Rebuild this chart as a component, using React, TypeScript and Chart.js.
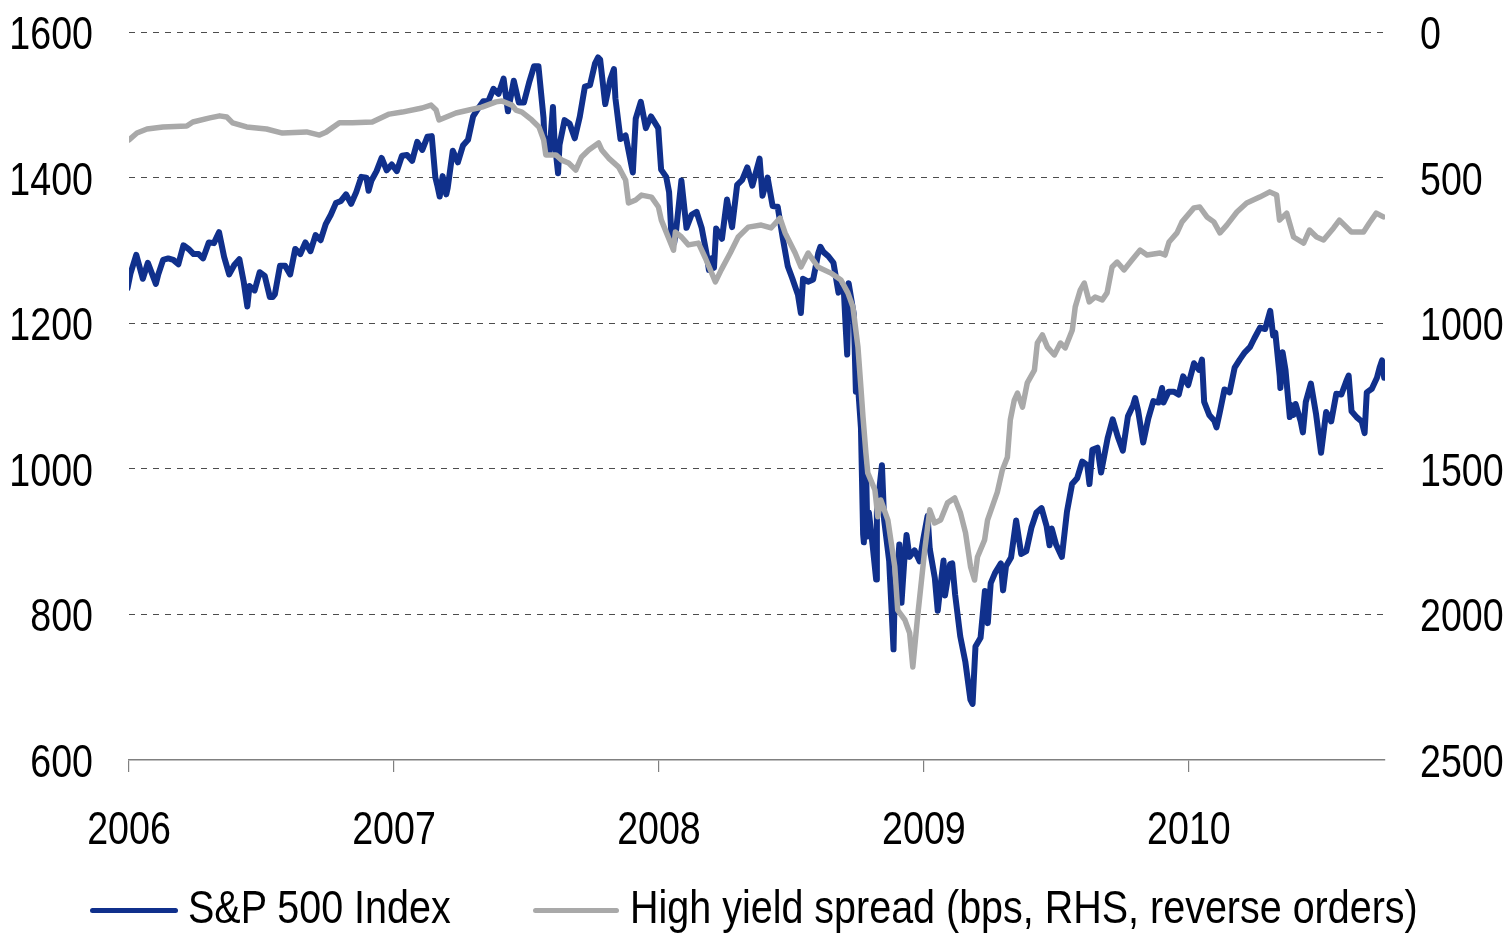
import React, { useEffect, useRef } from "react";
import { Chart, registerables } from "chart.js";

Chart.register(...registerables);

const FONT = '"Liberation Sans", Arimo, Arial, sans-serif';
const FONT_SIZE = 47;
const SQUEEZE = 0.8;
const LEGEND_SQUEEZE = 0.84;
const BLUE = "#10308C";
const GRAY = "#A9A9A9";

const seriesLabels = ["S&P 500 Index", "High yield spread (bps, RHS, reverse orders)"];
const xTickYears = [2006, 2007, 2008, 2009, 2010];
const leftTicks = [600, 800, 1000, 1200, 1400, 1600];
const rightTicks = [0, 500, 1000, 1500, 2000, 2500];

// S&P 500 index level (left axis)
const spDates = [
  "2005-12-30","2006-01-03","2006-01-11","2006-01-20","2006-01-27","2006-02-07","2006-02-10","2006-02-17","2006-02-24",
  "2006-03-03","2006-03-10","2006-03-17","2006-03-24","2006-03-31","2006-04-07","2006-04-13","2006-04-21","2006-04-28",
  "2006-05-05","2006-05-12","2006-05-19","2006-05-26","2006-06-02","2006-06-08","2006-06-13","2006-06-16","2006-06-23",
  "2006-06-30","2006-07-07","2006-07-14","2006-07-18","2006-07-21","2006-07-28","2006-08-04","2006-08-11","2006-08-18",
  "2006-08-25","2006-09-01","2006-09-08","2006-09-15","2006-09-22","2006-09-29","2006-10-06","2006-10-13","2006-10-20",
  "2006-10-27","2006-11-03","2006-11-10","2006-11-17","2006-11-24","2006-11-27","2006-12-01","2006-12-08","2006-12-15",
  "2006-12-22","2006-12-29",
  "2007-01-05","2007-01-12","2007-01-19","2007-01-26","2007-02-02","2007-02-09","2007-02-16","2007-02-22","2007-02-27",
  "2007-03-02","2007-03-05","2007-03-09","2007-03-14","2007-03-16","2007-03-23","2007-03-30","2007-04-06","2007-04-13",
  "2007-04-20","2007-04-27","2007-05-04","2007-05-11","2007-05-18","2007-05-25","2007-06-01","2007-06-07","2007-06-15",
  "2007-06-22","2007-06-29","2007-07-06","2007-07-13","2007-07-19","2007-07-26","2007-07-27","2007-08-03","2007-08-08",
  "2007-08-10","2007-08-15","2007-08-17","2007-08-24","2007-08-31","2007-09-07","2007-09-14","2007-09-21","2007-09-28",
  "2007-10-05","2007-10-09","2007-10-12","2007-10-19","2007-10-26","2007-10-31","2007-11-02","2007-11-09","2007-11-16",
  "2007-11-26","2007-11-30","2007-12-07","2007-12-14","2007-12-21","2007-12-31",
  "2008-01-04","2008-01-11","2008-01-15","2008-01-18","2008-01-22","2008-01-25","2008-02-01","2008-02-08","2008-02-15",
  "2008-02-22","2008-02-29","2008-03-07","2008-03-10","2008-03-14","2008-03-17","2008-03-20","2008-03-28","2008-04-04",
  "2008-04-11","2008-04-18","2008-04-25","2008-05-02","2008-05-09","2008-05-19","2008-05-23","2008-05-30","2008-06-06",
  "2008-06-13","2008-06-20","2008-06-27","2008-07-03","2008-07-11","2008-07-15","2008-07-18","2008-07-25","2008-08-01",
  "2008-08-08","2008-08-11","2008-08-15","2008-08-22","2008-08-29","2008-09-05","2008-09-12","2008-09-15","2008-09-17",
  "2008-09-19","2008-09-26","2008-09-29","2008-10-01","2008-10-03","2008-10-06","2008-10-09","2008-10-10","2008-10-13",
  "2008-10-15","2008-10-17","2008-10-22","2008-10-27","2008-10-28","2008-11-04","2008-11-07","2008-11-14","2008-11-20",
  "2008-11-21","2008-11-28","2008-12-01","2008-12-05","2008-12-08","2008-12-12","2008-12-19","2008-12-26","2008-12-31",
  "2009-01-06","2009-01-09","2009-01-16","2009-01-20","2009-01-23","2009-01-28","2009-01-30","2009-02-06","2009-02-09",
  "2009-02-13","2009-02-20","2009-02-27","2009-03-06","2009-03-09","2009-03-13","2009-03-20","2009-03-26","2009-03-30",
  "2009-04-03","2009-04-09","2009-04-17","2009-04-20","2009-04-24","2009-05-01","2009-05-08","2009-05-15","2009-05-22",
  "2009-05-29","2009-06-05","2009-06-12","2009-06-19","2009-06-23","2009-06-26","2009-07-02","2009-07-10","2009-07-17",
  "2009-07-24","2009-07-31","2009-08-07","2009-08-14","2009-08-17","2009-08-21","2009-08-28","2009-09-02","2009-09-11",
  "2009-09-18","2009-09-25","2009-10-02","2009-10-09","2009-10-16","2009-10-19","2009-10-23","2009-10-30","2009-11-06",
  "2009-11-13","2009-11-20","2009-11-25","2009-11-27","2009-12-04","2009-12-11","2009-12-18","2009-12-24","2009-12-31",
  "2010-01-08","2010-01-15","2010-01-19","2010-01-22","2010-01-29","2010-02-05","2010-02-08","2010-02-12","2010-02-19",
  "2010-02-26","2010-03-05","2010-03-12","2010-03-19","2010-03-26","2010-04-01","2010-04-09","2010-04-16","2010-04-23",
  "2010-04-27","2010-04-30","2010-05-06","2010-05-07","2010-05-10","2010-05-14","2010-05-20","2010-05-21","2010-05-25",
  "2010-05-28","2010-06-04","2010-06-07","2010-06-11","2010-06-18","2010-06-25","2010-07-02","2010-07-09","2010-07-16",
  "2010-07-23","2010-07-30","2010-08-06","2010-08-09","2010-08-13","2010-08-20","2010-08-27","2010-08-31","2010-09-03",
  "2010-09-10","2010-09-17","2010-09-21","2010-09-24","2010-09-27"
];
const spValues = [
  1248,1268,1294,1261,1283,1254,1266,1287,1289,
  1287,1281,1307,1302,1295,1295,1289,1311,1310,
  1325,1291,1267,1280,1288,1257,1223,1251,1245,
  1270,1265,1236,1236,1240,1279,1279,1267,1302,
  1295,1311,1299,1321,1314,1336,1349,1365,1368,
  1377,1364,1380,1401,1400,1382,1396,1409,1427,
  1410,1418,
  1409,1430,1431,1423,1449,1438,1456,1457,1400,
  1388,1374,1402,1377,1386,1437,1421,1444,1452,
  1484,1495,1505,1505,1522,1515,1536,1491,1533,
  1503,1503,1530,1553,1553,1482,1458,1433,1497,
  1453,1406,1445,1479,1474,1454,1484,1525,1527,
  1557,1565,1562,1501,1535,1549,1509,1453,1458,
  1407,1481,1504,1468,1484,1468,
  1411,1401,1380,1325,1310,1330,1396,1331,1349,
  1353,1331,1294,1273,1289,1276,1330,1316,1370,
  1332,1390,1397,1414,1389,1426,1375,1400,1361,
  1360,1317,1278,1262,1239,1214,1261,1257,1260,
  1296,1305,1298,1292,1283,1242,1252,1193,1157,
  1255,1213,1106,1161,1099,1056,910,899,1003,
  907,940,896,848,941,1005,930,873,752,
  800,896,816,876,909,879,888,873,903,
  935,890,850,805,832,874,826,869,870,
  827,770,735,683,677,756,768,832,788,
  843,857,870,833,866,878,929,883,887,
  919,940,946,921,895,918,896,879,941,
  979,987,1010,1005,979,1026,1029,995,1042,
  1068,1044,1025,1072,1087,1097,1080,1036,1069,
  1093,1091,1111,1091,1106,1106,1102,1127,1115,
  1145,1136,1150,1092,1074,1066,1057,1075,1109,
  1105,1139,1150,1160,1167,1179,1194,1192,1217,
  1183,1187,1128,1111,1160,1136,1071,1088,1074,
  1089,1065,1050,1092,1117,1076,1022,1078,1065,
  1103,1102,1121,1128,1079,1071,1065,1049,1105,
  1110,1125,1140,1149,1125
];

// High yield spread in bps (right axis, reversed); times in decimal years
const spreadTimes = [
  2006.000,2006.030,2006.068,2006.128,2006.218,2006.241,2006.305,2006.342,2006.369,2006.391,
  2006.444,2006.519,2006.579,2006.670,2006.719,2006.745,2006.794,2006.843,2006.918,2006.982,
  2007.031,2007.106,2007.140,2007.159,2007.170,2007.234,2007.283,2007.332,2007.385,2007.407,
  2007.445,2007.460,2007.483,2007.520,2007.547,2007.565,2007.573,2007.611,2007.633,2007.659,
  2007.686,2007.708,2007.735,2007.772,2007.784,2007.810,2007.848,2007.874,2007.885,2007.912,
  2007.934,2007.972,2007.998,2008.009,2008.055,2008.062,2008.085,2008.111,2008.149,2008.175,
  2008.213,2008.235,2008.269,2008.299,2008.337,2008.386,2008.423,2008.457,2008.476,2008.514,
  2008.536,2008.563,2008.600,2008.649,2008.687,2008.713,2008.732,2008.751,2008.762,2008.770,
  2008.781,2008.788,2008.815,2008.826,2008.837,2008.864,2008.890,2008.901,2008.928,2008.946,
  2008.958,2008.976,2009.003,2009.022,2009.040,2009.063,2009.089,2009.116,2009.138,2009.157,
  2009.176,2009.191,2009.202,2009.229,2009.240,2009.277,2009.296,2009.315,2009.326,2009.341,
  2009.353,2009.372,2009.390,2009.417,2009.428,2009.447,2009.466,2009.492,2009.515,2009.533,
  2009.560,2009.571,2009.590,2009.605,2009.624,2009.646,2009.673,2009.691,2009.710,2009.729,
  2009.755,2009.785,2009.816,2009.842,2009.891,2009.910,2009.925,2009.955,2009.974,2010.019,
  2010.041,2010.068,2010.094,2010.117,2010.143,2010.181,2010.218,2010.267,2010.305,2010.331,
  2010.342,2010.369,2010.395,2010.433,2010.455,2010.482,2010.508,2010.546,2010.568,2010.613,
  2010.659,2010.681,2010.707,2010.734
];
const spreadValues = [
  371,347,333,326,323,309,295,288,292,312,
  326,333,347,343,354,343,312,312,309,282,
  275,261,251,268,302,278,268,258,240,237,
  251,268,275,302,326,371,422,422,440,450,
  474,429,405,381,405,433,464,508,587,577,
  560,567,601,646,749,687,704,731,725,776,
  858,817,759,704,670,663,673,639,690,759,
  807,759,807,828,852,896,944,1082,1219,1322,
  1446,1514,1573,1665,1607,1676,1837,1985,2019,2064,
  2181,2009,1779,1641,1686,1676,1617,1600,1652,1720,
  1837,1882,1803,1744,1676,1580,1504,1460,1332,1264,
  1240,1288,1205,1161,1068,1040,1082,1109,1068,1085,
  1023,944,886,862,927,910,920,896,807,790,
  817,783,749,766,759,766,721,690,652,604,
  601,635,652,690,663,618,587,567,549,560,
  646,622,704,725,680,704,714,673,646,687,
  687,656,622,635
];

function toYear(s: string): number {
  const [y, m, d] = s.split("-").map(Number);
  const t = Date.UTC(y, m - 1, d);
  const a = Date.UTC(y, 0, 1);
  const b = Date.UTC(y + 1, 0, 1);
  return y + (t - a) / (b - a);
}

// Draws the axis tick labels in a narrow face (squeezed horizontally), positioned by the chart's scales.
const narrowTickLabels = {
  id: "narrowTickLabels",
  afterDraw(chart: any) {
    const ctx = chart.ctx;
    const { x, y, y1 } = chart.scales;
    ctx.save();
    ctx.font = `${FONT_SIZE}px ${FONT}`;
    ctx.fillStyle = "#000";
    ctx.textBaseline = "alphabetic";
    const put = (text: string, px: number, py: number, align: CanvasTextAlign) => {
      const w = ctx.measureText(text).width;
      ctx.textAlign = align;
      ctx.fillText(text, px, py, w * SQUEEZE);
    };
    y.ticks.forEach((t: any) => put(String(t.value), y.right - 36, y.getPixelForValue(t.value) + 17, "right"));
    y1.ticks.forEach((t: any) => put(String(t.value), y1.left + 35, y1.getPixelForValue(t.value) + 17, "left"));
    x.ticks.forEach((t: any) => put(String(t.value), x.getPixelForValue(t.value), x.top + 84, "center"));
    ctx.restore();
  },
};

export default function App() {
  const ref = useRef<HTMLCanvasElement | null>(null);

  useEffect(() => {
    if (!ref.current) return;
    const chart = new Chart(ref.current, {
      type: "line",
      data: {
        datasets: [
          {
            label: seriesLabels[0],
            data: spDates.map((d, i) => ({ x: toYear(d), y: spValues[i] })),
            yAxisID: "y",
            borderColor: BLUE,
            backgroundColor: BLUE,
            borderWidth: 6,
            pointRadius: 0,
            tension: 0,
            order: 2,
            borderJoinStyle: "round",
            borderCapStyle: "round",
          },
          {
            label: seriesLabels[1],
            data: spreadTimes.map((t, i) => ({ x: t, y: spreadValues[i] })),
            yAxisID: "y1",
            borderColor: GRAY,
            backgroundColor: GRAY,
            borderWidth: 5.5,
            pointRadius: 0,
            tension: 0,
            order: 1,
            borderJoinStyle: "round",
            borderCapStyle: "round",
          },
        ],
      },
      options: {
        animation: false,
        responsive: true,
        maintainAspectRatio: false,
        layout: { padding: { top: 32, left: 0, right: 0, bottom: 0 } },
        plugins: { legend: { display: false }, tooltip: { enabled: false } },
        scales: {
          x: {
            type: "linear",
            min: 2006,
            max: 2010.74,
            afterBuildTicks: (s: any) => {
              s.ticks = xTickYears.map((v) => ({ value: v }));
            },
            afterFit: (s: any) => {
              s.height = 173;
            },
            ticks: { display: false },
            grid: {
              drawOnChartArea: false,
              drawTicks: true,
              tickLength: 12,
              color: "#808080",
              tickColor: "#808080",
              lineWidth: 1.2,
            },
            border: { display: true, color: "#808080", width: 1.5 },
          },
          y: {
            position: "left",
            min: 600,
            max: 1600,
            afterBuildTicks: (s: any) => {
              s.ticks = leftTicks.map((v) => ({ value: v }));
            },
            afterFit: (s: any) => {
              s.width = 129;
            },
            ticks: { display: false },
            grid: {
              drawTicks: false,
              color: (ctx: any) => (ctx.tick && ctx.tick.value === 600 ? "rgba(0,0,0,0)" : "#4d4d4d"),
              lineWidth: 1,
            },
            border: { display: false, dash: [6, 6] },
          },
          y1: {
            position: "right",
            min: 0,
            max: 2500,
            reverse: true,
            afterBuildTicks: (s: any) => {
              s.ticks = rightTicks.map((v) => ({ value: v }));
            },
            afterFit: (s: any) => {
              s.width = 127;
            },
            ticks: { display: false },
            grid: { display: false, drawTicks: false },
            border: { display: false },
          },
        },
      },
      plugins: [narrowTickLabels],
    } as any);
    return () => chart.destroy();
  }, []);

  const swatch = (color: string, left: number, width: number): React.CSSProperties => ({
    position: "absolute",
    left,
    top: 908,
    width,
    height: 5,
    borderRadius: 3,
    background: color,
  });
  const legendText = (left: number): React.CSSProperties => ({
    position: "absolute",
    left,
    top: 883,
    fontFamily: FONT,
    fontSize: FONT_SIZE,
    lineHeight: `${FONT_SIZE}px`,
    color: "#000",
    whiteSpace: "nowrap",
    transform: `scaleX(${LEGEND_SQUEEZE})`,
    transformOrigin: "0 0",
  });

  return (
    <div style={{ position: "absolute", left: 0, top: 0, width: 1512, height: 933, background: "#fff" }}>
      <canvas ref={ref} />
      <span style={swatch(BLUE, 90, 88)} />
      <span style={legendText(188)}>{seriesLabels[0]}</span>
      <span style={swatch(GRAY, 533, 86)} />
      <span style={legendText(630)}>{seriesLabels[1]}</span>
    </div>
  );
}
